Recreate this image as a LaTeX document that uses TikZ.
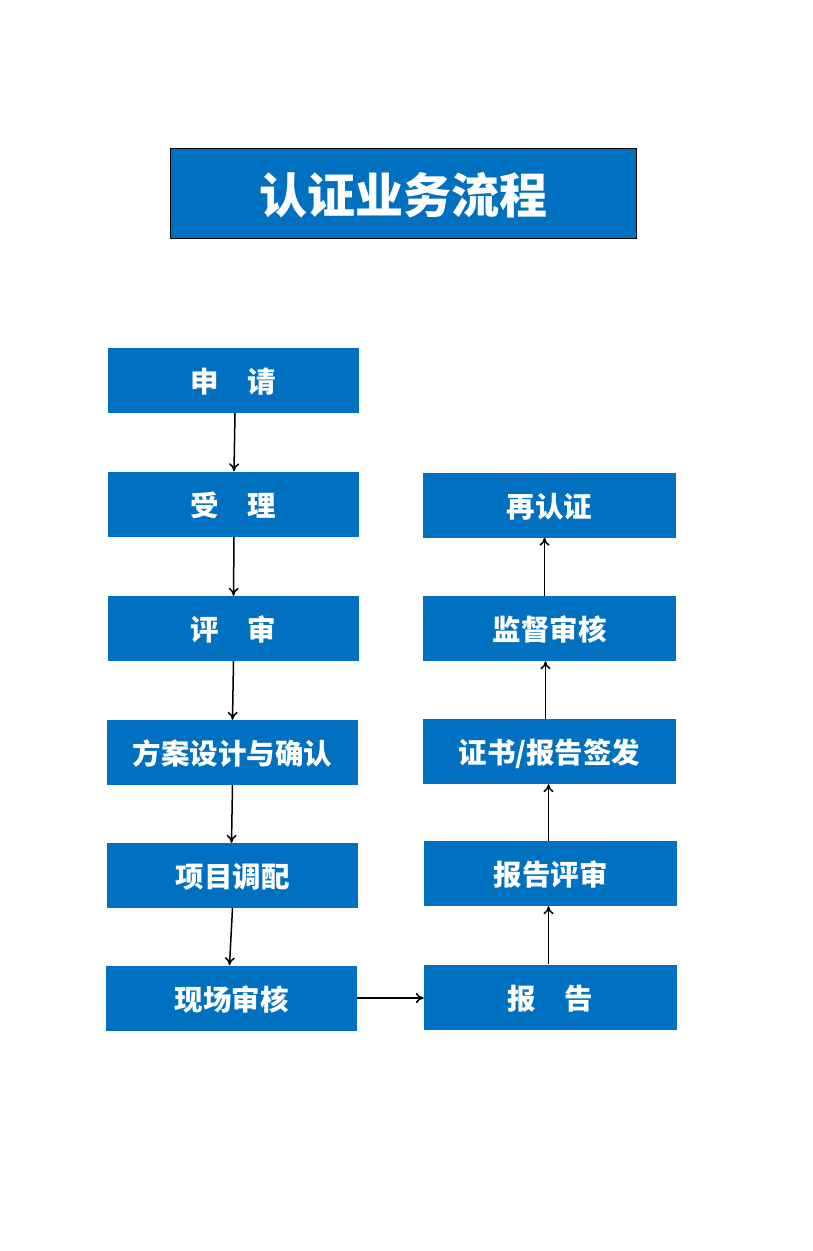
\documentclass[tikz,border=0pt]{standalone}
\usepackage{fontspec}
\newfontfamily\cjk{Noto Sans CJK SC}
\usetikzlibrary{arrows.meta}
\definecolor{boxblue}{HTML}{0070C0}
\begin{document}
\begin{tikzpicture}[x=1pt,y=-1pt,
  bluebox/.style={fill=boxblue,text=white,inner sep=0pt,minimum width=251pt,minimum height=65pt,text depth=-3pt,font=\cjk\bfseries\fontsize{28.5}{30}\selectfont},
  link/.style={draw=black,line width=1.5pt,-{To[length=8pt,width=10pt]}}]
\useasboundingbox (0,0) rectangle (812,1251);
\node[fill=boxblue,draw=black,line width=1pt,text=white,inner sep=0pt,minimum width=466pt,minimum height=90pt,text depth=-8pt,font=\cjk\bfseries\fontsize{48}{50}\selectfont] (title) at (403,193) {认证业务流程};
\node[bluebox] (a1) at (233.5,380.5) {申　请};
\node[bluebox] (a2) at (233.5,504) {受　理};
\node[bluebox] (a3) at (233.5,628.5) {评　审};
\node[bluebox] (a4) at (232.5,752.5) {方案设计与确认};
\node[bluebox] (a5) at (232.5,875.5) {项目调配};
\node[bluebox] (a6) at (231.5,998) {现场审核};
\node[bluebox,minimum width=253pt] (b5) at (550.5,997) {报　告};
\node[bluebox,minimum width=253pt] (b4) at (550.5,873.5) {报告评审};
\node[bluebox,minimum width=253pt] (b3) at (549.5,751.5) {证书/报告签发};
\node[bluebox,minimum width=253pt] (b2) at (549.5,628.5) {监督审核};
\node[bluebox,minimum width=253pt] (b1) at (549.5,505) {再认证};
\draw[link] ([xshift=1.5pt]a1.south) -- ([xshift=0.5pt]a2.north);
\draw[link] ([xshift=0.5pt]a2.south) -- (a3.north);
\draw[link] (a3.south) -- (a4.north);
\draw[link] (a4.south) -- ([xshift=-1pt]a5.north);
\draw[link] (a5.south) -- ([xshift=-2pt]a6.north);
\draw[link] (a6.east) -- (a6.east -| b5.west);
\draw[link] ([xshift=-2pt]b5.north) -- ([xshift=-2pt]b4.south);
\draw[link] ([xshift=-2pt]b4.north) -- ([xshift=-1pt]b3.south);
\draw[link] ([xshift=-4pt]b3.north) -- ([xshift=-4pt]b2.south);
\draw[link] ([xshift=-5pt]b2.north) -- ([xshift=-5pt]b1.south);
\end{tikzpicture}
\end{document}
